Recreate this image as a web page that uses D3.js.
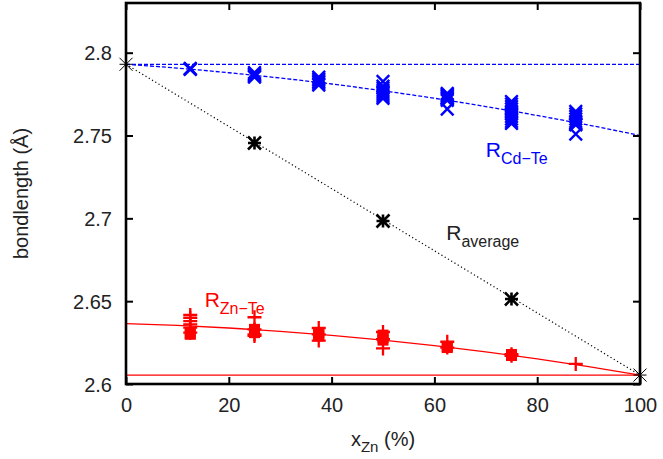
<!DOCTYPE html>
<html>
<head>
<meta charset="utf-8">
<script src="https://cdn.jsdelivr.net/npm/d3@7"></script>
<style>
  body { margin: 0; background: #fff; }
  svg { display: block; font-family: 'Liberation Sans', Arial, Helvetica, sans-serif; }
</style>
</head>
<body>
<svg id="chart" width="663" height="459"></svg>
<script>
// x compositions (%) and tick labels
const xTicks = [0, 20, 40, 60, 80, 100];
const yTicks = [2.6, 2.65, 2.7, 2.75, 2.8];

// Cd-Te bond lengths (blue crosses), one list per composition
const cdteX = [12.5, 25, 37.5, 50, 62.5, 75, 87.5];
const cdteY = [
  [2.7905, 2.7902, 2.7899],
  [2.7880, 2.7872, 2.7865, 2.7858, 2.7853],
  [2.7853, 2.7843, 2.7833, 2.7823, 2.7813, 2.7805],
  [2.7826, 2.7798, 2.7785, 2.7772, 2.7760, 2.7748, 2.7736, 2.7724],
  [2.7754, 2.7748, 2.7742, 2.7736, 2.7728, 2.7720, 2.7712, 2.7660],
  [2.7705, 2.7690, 2.7675, 2.7660, 2.7645, 2.7630, 2.7615, 2.7600, 2.7585, 2.7573],
  [2.7645, 2.7630, 2.7615, 2.7600, 2.7585, 2.7570, 2.7564, 2.7509]
];

// Zn-Te bond lengths: plus markers and square markers
const zntePlusX = [12.5, 25, 37.5, 50, 62.5, 75, 87.5];
const zntePlusY = [
  [2.6417, 2.6400, 2.6380, 2.6360, 2.6340, 2.6310],
  [2.6403, 2.6330, 2.6300, 2.6290],
  [2.6338, 2.6300, 2.6262],
  [2.6314, 2.6270, 2.6215],
  [2.6255, 2.6220],
  [2.6180, 2.6170],
  [2.6121]
];
const znteSquareX = [12.5, 25, 37.5, 50, 62.5, 75];
const znteSquareY = [
  [2.6305, 2.6300],
  [2.6330, 2.6320, 2.6310],
  [2.6310, 2.6300, 2.6290],
  [2.6295, 2.6280, 2.6265],
  [2.6225, 2.6220],
  [2.6178, 2.6172]
];

// average bond length (black asterisks)
const avgX = [0, 25, 50, 75, 100];
const avgY = [2.7930, 2.7455, 2.6984, 2.6513, 2.6054];

// fitted curves at steps of 10 %
const fitX = [0, 10, 20, 30, 40, 50, 60, 70, 80, 90, 100];
const cdteFit = [2.7930, 2.7907, 2.7879, 2.7847, 2.7811, 2.7770, 2.7725, 2.7675, 2.7621, 2.7563, 2.7500];
const znteFit = [2.6365, 2.6354, 2.6338, 2.6318, 2.6294, 2.6265, 2.6232, 2.6194, 2.6152, 2.6105, 2.6054];
const cdteRef = 2.7930;
const znteRef = 2.6054;

const W = 663, H = 459;
const margin = { left: 126, right: 23, top: 3, bottom: 75 };
const svg = d3.select('#chart');

const x = d3.scaleLinear().domain([0, 100]).range([margin.left, W - margin.right]);
const y = d3.scaleLinear().domain([2.6, 2.83]).range([H - margin.bottom, margin.top]);

const BLUE = '#0000ff', RED = '#ff0000';

function markerPath(type, s) {
  if (type === 'x') return `M${-s},${-s}L${s},${s}M${-s},${s}L${s},${-s}`;
  if (type === '+') return `M${-s},0L${s},0M0,${-s}L0,${s}`;
  if (type === '*') return `M${-s},${-s}L${s},${s}M${-s},${s}L${s},${-s}M${-s},0L${s},0M0,${-s}L0,${s}`;
  return '';
}

// flatten grouped values
function flat(xs, ys) {
  const out = [];
  xs.forEach((xv, i) => ys[i].forEach(v => out.push({ x: xv, y: v })));
  return out;
}

const plot = svg.append('g');

// reference lines
plot.append('line')
  .attr('x1', x(0)).attr('x2', x(100))
  .attr('y1', y(cdteRef)).attr('y2', y(cdteRef))
  .attr('stroke', BLUE).attr('stroke-width', 1.3).attr('stroke-dasharray', '4,2');
plot.append('line')
  .attr('x1', x(0)).attr('x2', x(100))
  .attr('y1', y(znteRef)).attr('y2', y(znteRef))
  .attr('stroke', RED).attr('stroke-width', 1.3);

const line = d3.line().x(d => x(d[0])).y(d => y(d[1])).curve(d3.curveMonotoneX);

plot.append('path')
  .attr('d', line(fitX.map((v, i) => [v, cdteFit[i]])))
  .attr('fill', 'none').attr('stroke', BLUE).attr('stroke-width', 1.3)
  .attr('stroke-dasharray', '4,2');
plot.append('path')
  .attr('d', line(fitX.map((v, i) => [v, znteFit[i]])))
  .attr('fill', 'none').attr('stroke', RED).attr('stroke-width', 1.3);
plot.append('path')
  .attr('d', d3.line().x(d => x(d[0])).y(d => y(d[1]))([[avgX[0], avgY[0]], [avgX[avgX.length - 1], avgY[avgY.length - 1]]]))
  .attr('fill', 'none').attr('stroke', '#000').attr('stroke-width', 1.2)
  .attr('stroke-dasharray', '1.2,2.6');

// blue crosses
plot.selectAll('path.cdte')
  .data(flat(cdteX, cdteY))
  .enter().append('path')
  .attr('class', 'cdte')
  .attr('transform', d => `translate(${x(d.x)},${y(d.y)})`)
  .attr('d', markerPath('x', 6.3))
  .attr('stroke', BLUE).attr('stroke-width', 2.4).attr('fill', 'none');

// red squares
plot.selectAll('rect.znsq')
  .data(flat(znteSquareX, znteSquareY))
  .enter().append('rect')
  .attr('class', 'znsq')
  .attr('x', d => x(d.x) - 5.5).attr('y', d => y(d.y) - 5.5)
  .attr('width', 11).attr('height', 11)
  .attr('fill', RED);

// red plus
plot.selectAll('path.znplus')
  .data(flat(zntePlusX, zntePlusY))
  .enter().append('path')
  .attr('class', 'znplus')
  .attr('transform', d => `translate(${x(d.x)},${y(d.y)})`)
  .attr('d', markerPath('+', 7))
  .attr('stroke', RED).attr('stroke-width', 2.3).attr('fill', 'none');

// black asterisks: end points thin, mixed compositions bold
plot.selectAll('path.avg')
  .data(avgX.map((v, i) => ({ x: v, y: avgY[i], end: i === 0 || i === avgX.length - 1 })))
  .enter().append('path')
  .attr('class', 'avg')
  .attr('transform', d => `translate(${x(d.x)},${y(d.y)})`)
  .attr('d', markerPath('*', 6.5))
  .attr('stroke', '#000').attr('stroke-width', d => d.end ? 1 : 2.6).attr('fill', 'none');

// frame and ticks
const frame = svg.append('g');
const tickLen = 7;
const axisFont = 20;

const gx = frame.append('g')
  .attr('transform', `translate(0,${y.range()[0]})`)
  .call(d3.axisBottom(x).tickValues(xTicks).tickSize(-tickLen).tickPadding(14).tickFormat(d3.format('d')));
const gxTop = frame.append('g')
  .attr('transform', `translate(0,${y.range()[1]})`)
  .call(d3.axisTop(x).tickValues(xTicks).tickSize(-tickLen).tickFormat(''));
const gy = frame.append('g')
  .attr('transform', `translate(${x.range()[0]},0)`)
  .call(d3.axisLeft(y).tickValues(yTicks).tickSize(-tickLen).tickPadding(14).tickFormat(d3.format('.2~f')));
const gyRight = frame.append('g')
  .attr('transform', `translate(${x.range()[1]},0)`)
  .call(d3.axisRight(y).tickValues(yTicks).tickSize(-tickLen).tickFormat(''));

[gx, gxTop, gy, gyRight].forEach(g => {
  g.select('.domain').remove();
  g.selectAll('.tick line').attr('stroke', '#000').attr('stroke-width', 2);
  g.selectAll('.tick text').attr('fill', '#222').style('font-size', axisFont + 'px')
    .style('font-family', "'Liberation Sans', Arial, sans-serif");
});
gy.selectAll('.tick text').attr('dy', '0.36em');

frame.append('rect')
  .attr('x', x.range()[0]).attr('y', y.range()[1])
  .attr('width', x.range()[1] - x.range()[0])
  .attr('height', y.range()[0] - y.range()[1])
  .attr('fill', 'none').attr('stroke', '#000').attr('stroke-width', 2.6);

// labels with subscripts
function subLabel(px, py, main, sub, color, size, subSize) {
  const t = svg.append('text')
    .attr('x', px).attr('y', py)
    .attr('fill', color).style('font-size', size + 'px');
  t.append('tspan').text(main);
  t.append('tspan').attr('dy', 7).style('font-size', subSize + 'px').text(sub);
  return t;
}

subLabel(x(70.0), y(2.7372), 'R', 'Cd\u2212Te', BLUE, 21, 16);
subLabel(x(62.3), y(2.6867), 'R', 'average', '#222', 21, 16);
subLabel(x(15.3), y(2.6462), 'R', 'Zn\u2212Te', RED, 21, 16);

// axis titles
const xt = svg.append('text')
  .attr('x', (x.range()[0] + x.range()[1]) / 2).attr('y', 446)
  .attr('text-anchor', 'middle').attr('fill', '#222').style('font-size', '20px');
xt.append('tspan').text('x');
xt.append('tspan').attr('dy', 6).style('font-size', '15px').text('Zn');
xt.append('tspan').attr('dy', -6).text(' (%)');

svg.append('text')
  .attr('transform', `translate(28,${(y.range()[0] + y.range()[1]) / 2}) rotate(-90)`)
  .attr('text-anchor', 'middle').attr('fill', '#222').style('font-size', '20px')
  .text('bondlength (\u00c5)');
</script>
</body>
</html>
